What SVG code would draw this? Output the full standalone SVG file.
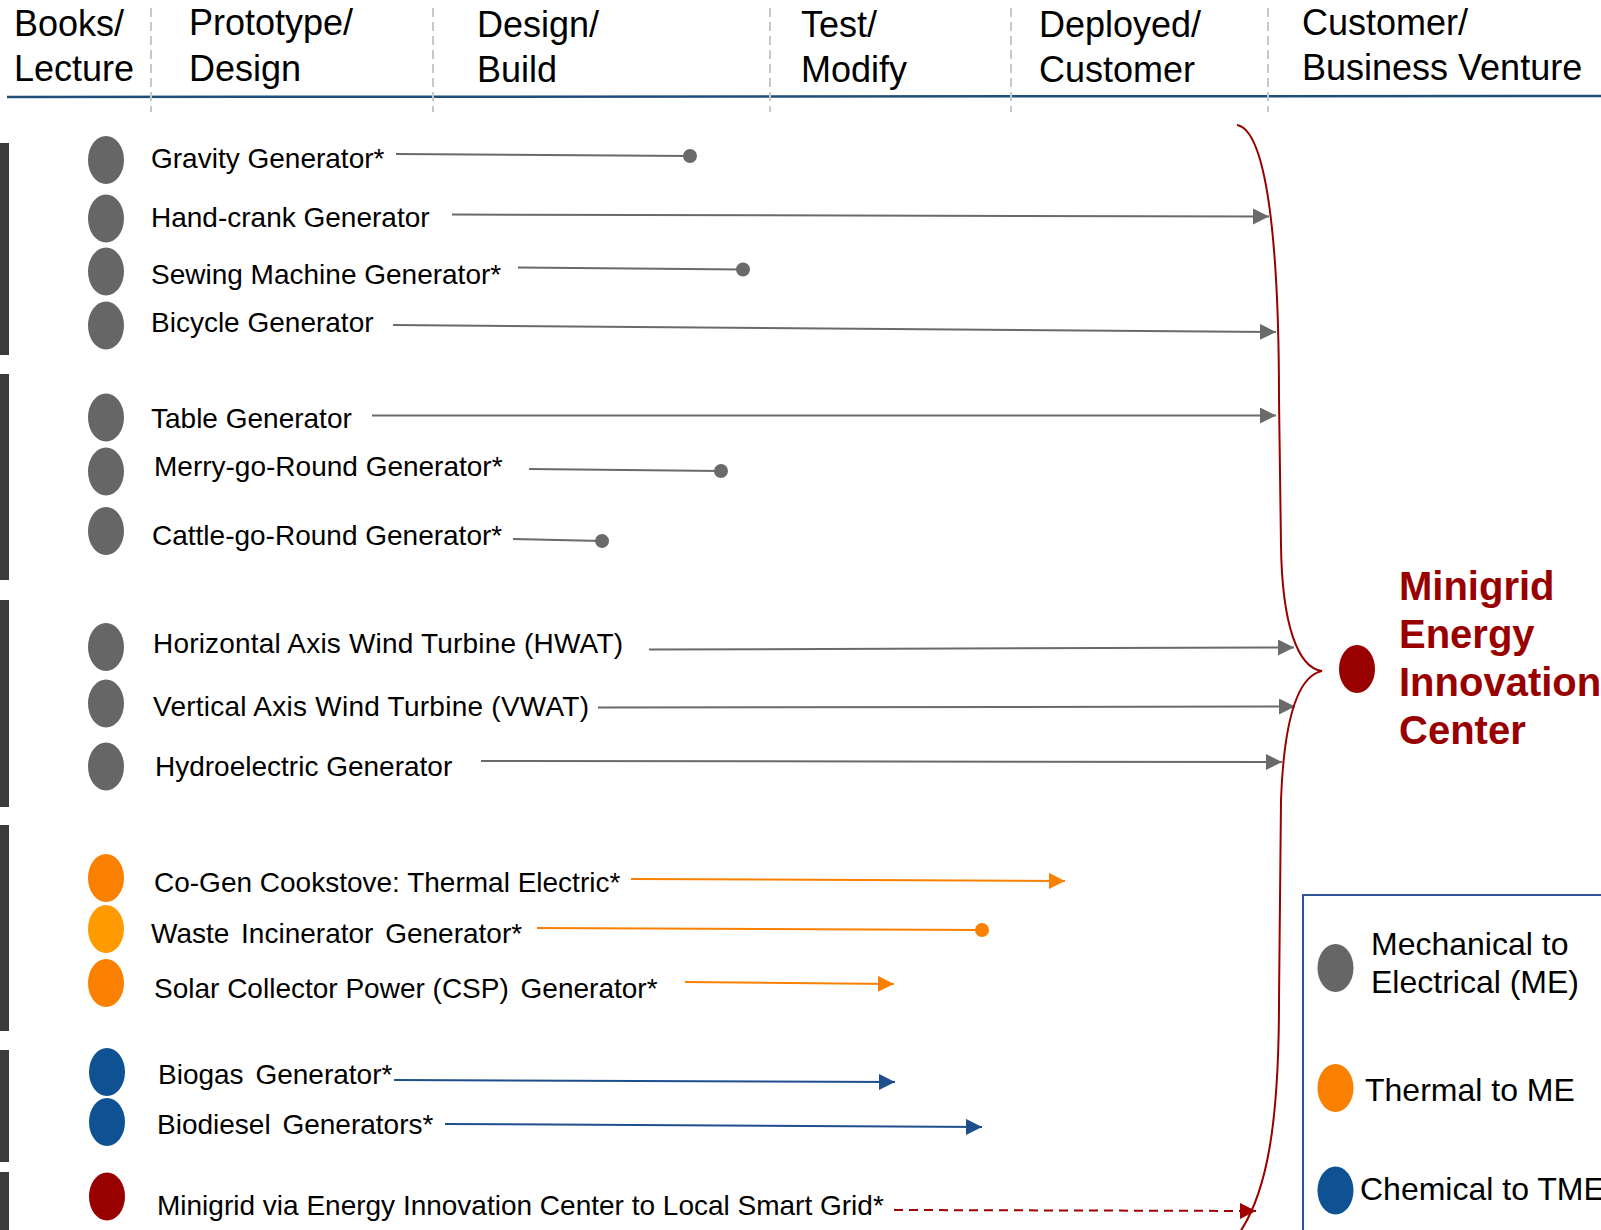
<svg xmlns="http://www.w3.org/2000/svg" width="1601" height="1230" viewBox="0 0 1601 1230">
<style>
.hdr{font-family:"Liberation Sans",Arial,sans-serif;font-size:36px;fill:#000}
.lbl{font-family:"Liberation Sans",Arial,sans-serif;font-size:28px;fill:#000}
.leg{font-family:"Liberation Sans",Arial,sans-serif;font-size:32px;fill:#000}
.big{font-family:"Liberation Sans",Arial,sans-serif;font-size:40px;font-weight:bold;fill:#990000}
.sep{stroke:#c8c8c8;stroke-width:2;stroke-dasharray:9 5;fill:none}
.bar{fill:#3b3b3b}
.me{fill:#666666}
.th{fill:#F98000}
.th2{fill:#FF9A00}
.ch{fill:#0F5294}
.red{fill:#990000}
.cg{stroke:#6a6a6a;stroke-width:2;fill:none}
.co{stroke:#F98000;stroke-width:2;fill:none}
.cb{stroke:#1F4E8C;stroke-width:2;fill:none}
.cr{stroke:#A00000;stroke-width:2;fill:none;stroke-dasharray:9 6}
</style>
<defs>
<marker id="ag" markerUnits="userSpaceOnUse" markerWidth="17" markerHeight="17" refX="16" refY="8" orient="auto"><path d="M0,0 L16,8 L0,16 z" fill="#6a6a6a"/></marker>
<marker id="ao" markerUnits="userSpaceOnUse" markerWidth="17" markerHeight="17" refX="16" refY="8" orient="auto"><path d="M0,0 L16,8 L0,16 z" fill="#F98000"/></marker>
<marker id="ab" markerUnits="userSpaceOnUse" markerWidth="17" markerHeight="17" refX="16" refY="8" orient="auto"><path d="M0,0 L16,8 L0,16 z" fill="#1F4E8C"/></marker>
<marker id="ar" markerUnits="userSpaceOnUse" markerWidth="17" markerHeight="17" refX="16" refY="8" orient="auto"><path d="M0,0 L16,8 L0,16 z" fill="#A00000"/></marker>
<marker id="dg" markerUnits="userSpaceOnUse" markerWidth="16" markerHeight="16" refX="8" refY="8" orient="auto"><circle cx="8" cy="8" r="7" fill="#6a6a6a"/></marker>
<marker id="do" markerUnits="userSpaceOnUse" markerWidth="16" markerHeight="16" refX="8" refY="8" orient="auto"><circle cx="8" cy="8" r="7" fill="#F98000"/></marker>
</defs>
<rect width="1601" height="1230" fill="#fff"/>

<g id="header">
<line x1="7" y1="97" x2="1601" y2="96" stroke="#1F4E79" stroke-width="2.5"/>
<line class="sep" x1="151" y1="8" x2="151" y2="112"/>
<line class="sep" x1="433" y1="8" x2="433" y2="112"/>
<line class="sep" x1="770" y1="8" x2="770" y2="112"/>
<line class="sep" x1="1011" y1="8" x2="1011" y2="112"/>
<line class="sep" x1="1268" y1="8" x2="1268" y2="112"/>
<text class="hdr" x="14" y="36">Books/</text><text class="hdr" x="14" y="81">Lecture</text>
<text class="hdr" x="189" y="35">Prototype/</text><text class="hdr" x="189" y="81">Design</text>
<text class="hdr" x="477" y="37">Design/</text><text class="hdr" x="477" y="82">Build</text>
<text class="hdr" x="801" y="37">Test/</text><text class="hdr" x="801" y="82">Modify</text>
<text class="hdr" x="1039" y="37">Deployed/</text><text class="hdr" x="1039" y="82">Customer</text>
<text class="hdr" x="1302" y="35">Customer/</text><text class="hdr" x="1302" y="80">Business Venture</text>
</g>

<g id="bars">
<rect class="bar" x="0" y="143" width="9" height="212"/>
<rect class="bar" x="0" y="374" width="9" height="206"/>
<rect class="bar" x="0" y="600" width="9" height="207"/>
<rect class="bar" x="0" y="825" width="9" height="206"/>
<rect class="bar" x="0" y="1050" width="9" height="112"/>
<rect class="bar" x="0" y="1172" width="9" height="58"/>
</g>

<g id="connectors">
<line class="cg" x1="396" y1="154" x2="690" y2="156" marker-end="url(#dg)"/>
<line class="cg" x1="452" y1="214.5" x2="1269" y2="216.5" marker-end="url(#ag)"/>
<line class="cg" x1="518" y1="267.5" x2="743" y2="269.5" marker-end="url(#dg)"/>
<line class="cg" x1="393" y1="325" x2="1276" y2="332" marker-end="url(#ag)"/>
<line class="cg" x1="372" y1="415.5" x2="1276" y2="415.5" marker-end="url(#ag)"/>
<line class="cg" x1="529" y1="469" x2="721" y2="471" marker-end="url(#dg)"/>
<line class="cg" x1="513" y1="539" x2="602" y2="541" marker-end="url(#dg)"/>
<line class="cg" x1="649" y1="649.5" x2="1294" y2="647.5" marker-end="url(#ag)"/>
<line class="cg" x1="598" y1="707.5" x2="1295" y2="706.5" marker-end="url(#ag)"/>
<line class="cg" x1="481" y1="761" x2="1282" y2="762" marker-end="url(#ag)"/>
<line class="co" x1="631" y1="879" x2="1065" y2="881" marker-end="url(#ao)"/>
<line class="co" x1="537" y1="928" x2="982" y2="930" marker-end="url(#do)"/>
<line class="co" x1="685" y1="982" x2="894" y2="984" marker-end="url(#ao)"/>
<line class="cb" x1="394" y1="1080" x2="895" y2="1082" marker-end="url(#ab)"/>
<line class="cb" x1="445" y1="1124" x2="982" y2="1127" marker-end="url(#ab)"/>
<line class="cr" x1="894" y1="1210" x2="1256" y2="1211" marker-end="url(#ar)"/>
</g>

<g id="brace">
<path d="M1237,125 C1265,130 1279,230 1279,400 L1281,545 C1282,625 1298,668 1322,671 C1298,676 1284,720 1281,800 L1279,1000 C1279,1120 1268,1190 1240,1232" fill="none" stroke="#990000" stroke-width="2"/>
</g>

<g id="n-gravity"><ellipse class="me" cx="106" cy="160" rx="18" ry="24"/><text class="lbl" x="151" y="168">Gravity Generator*</text></g>
<g id="n-handcrank"><ellipse class="me" cx="106" cy="218.5" rx="18" ry="24"/><text class="lbl" x="151" y="227">Hand-crank Generator</text></g>
<g id="n-sewing"><ellipse class="me" cx="106" cy="271.5" rx="18" ry="24"/><text class="lbl" x="151" y="284">Sewing Machine Generator*</text></g>
<g id="n-bicycle"><ellipse class="me" cx="106" cy="325.5" rx="18" ry="24"/><text class="lbl" x="151" y="332">Bicycle Generator</text></g>
<g id="n-table"><ellipse class="me" cx="106" cy="417.5" rx="18" ry="24"/><text class="lbl" x="151" y="428">Table Generator</text></g>
<g id="n-merry"><ellipse class="me" cx="106" cy="471.5" rx="18" ry="24"/><text class="lbl" x="154" y="476">Merry-go-Round Generator*</text></g>
<g id="n-cattle"><ellipse class="me" cx="106" cy="531" rx="18" ry="24"/><text class="lbl" x="152" y="545">Cattle-go-Round Generator*</text></g>
<g id="n-hwat"><ellipse class="me" cx="106" cy="647" rx="18" ry="24"/><text class="lbl" x="153" y="653" textLength="470">Horizontal Axis Wind Turbine (HWAT)</text></g>
<g id="n-vwat"><ellipse class="me" cx="106" cy="703.5" rx="18" ry="24"/><text class="lbl" x="153" y="716" textLength="436">Vertical Axis Wind Turbine (VWAT)</text></g>
<g id="n-hydro"><ellipse class="me" cx="106" cy="766.5" rx="18" ry="24"/><text class="lbl" x="155" y="776">Hydroelectric Generator</text></g>
<g id="n-cogen"><ellipse class="th" cx="106" cy="878" rx="18" ry="24"/><text class="lbl" x="154" y="892">Co-Gen Cookstove: Thermal Electric*</text></g>
<g id="n-waste"><ellipse class="th2" cx="106" cy="929" rx="18" ry="24"/><text class="lbl" x="151" y="943" word-spacing="4">Waste Incinerator Generator*</text></g>
<g id="n-solar"><ellipse class="th" cx="106" cy="983" rx="18" ry="24"/><text class="lbl" x="154" y="998">Solar Collector Power (CSP) <tspan dx="4">Generator*</tspan></text></g>
<g id="n-biogas"><ellipse class="ch" cx="107" cy="1072" rx="18" ry="24"/><text class="lbl" x="158" y="1084" word-spacing="4">Biogas Generator*</text></g>
<g id="n-biodiesel"><ellipse class="ch" cx="107" cy="1122" rx="18" ry="24"/><text class="lbl" x="157" y="1134" word-spacing="4">Biodiesel Generators*</text></g>
<g id="n-minigrid"><ellipse class="red" cx="107" cy="1196.5" rx="18" ry="24"/><text class="lbl" x="157" y="1215">Minigrid via Energy Innovation Center to Local Smart Grid*</text></g>

<g id="n-center">
<ellipse class="red" cx="1357" cy="669" rx="18" ry="24"/>
<text class="big" x="1399" y="600">Minigrid</text>
<text class="big" x="1399" y="648">Energy</text>
<text class="big" x="1399" y="696">Innovation</text>
<text class="big" x="1399" y="744">Center</text>
</g>

<g id="legend">
<rect x="1303" y="895" width="320" height="360" fill="none" stroke="#2F5597" stroke-width="2"/>
<ellipse class="me" cx="1335.5" cy="968" rx="18" ry="24"/>
<text class="leg" x="1371" y="955">Mechanical to</text>
<text class="leg" x="1371" y="993">Electrical (ME)</text>
<ellipse class="th" cx="1335.5" cy="1088" rx="18" ry="24"/>
<text class="leg" x="1365" y="1101">Thermal to ME</text>
<ellipse class="ch" cx="1335.5" cy="1190.5" rx="18" ry="24"/>
<text class="leg" x="1360" y="1200">Chemical to TME</text>
</g>
</svg>
